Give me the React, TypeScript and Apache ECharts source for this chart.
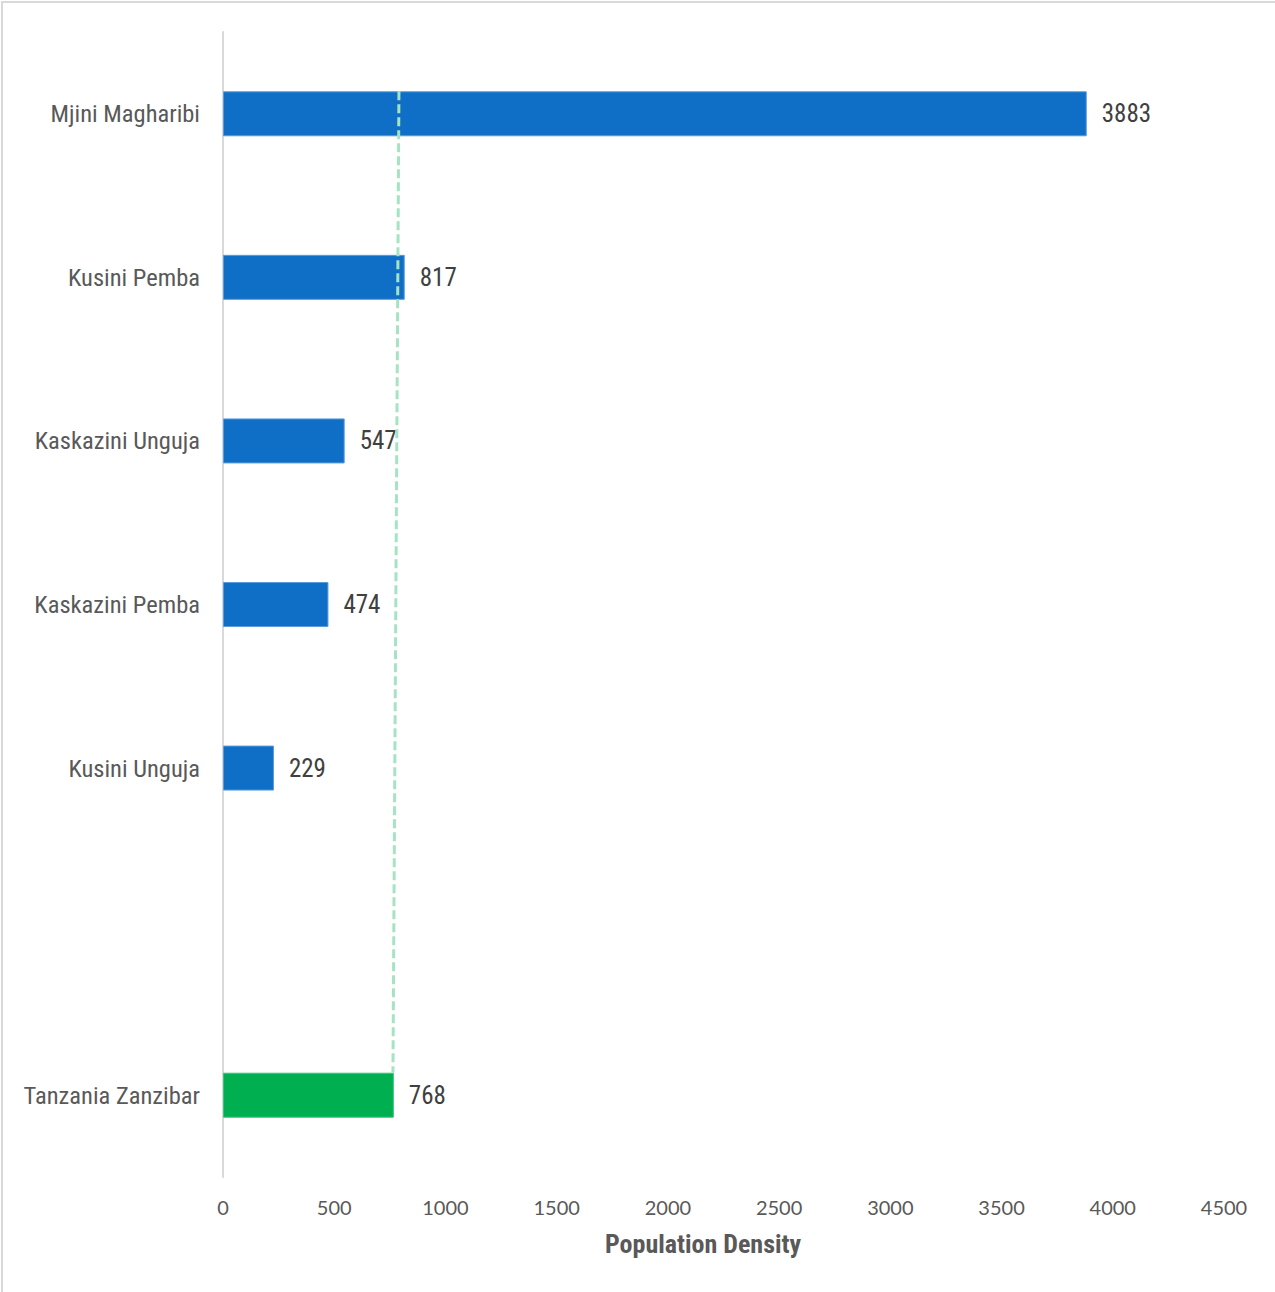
import React, { useEffect, useRef } from "react";
import * as echarts from "echarts";

const categories = [
  "Mjini Magharibi",
  "Kusini Pemba",
  "Kaskazini Unguja",
  "Kaskazini Pemba",
  "Kusini Unguja",
  "",
  "Tanzania Zanzibar",
];
const densities: (number | null)[] = [3883, 817, 547, 474, 229, null, 768];
const barColors = ["#0F6FC6", "#0F6FC6", "#0F6FC6", "#0F6FC6", "#0F6FC6", "#0F6FC6", "#00B050"];
// dashed reference line (value, slot position) endpoints
const refLine: [number, number][] = [
  [791, 0.3625],
  [764, 6.3625],
];
const xMax = 4500;
const xStep = 500;
const axisTitle = "Population Density";

export default function App() {
  const ref = useRef<HTMLDivElement>(null);
  useEffect(() => {
    document.body.style.margin = "0";
    const chart = echarts.init(ref.current!, undefined, { renderer: "svg" });
    const narrow = "'Roboto Condensed', 'Liberation Sans Narrow', sans-serif";
    chart.setOption({
      animation: false,
      backgroundColor: "#ffffff",
      grid: { left: 223, right: 51, top: 32, bottom: 115, containLabel: false, outerBoundsMode: "none" },
      xAxis: {
        type: "value",
        min: 0,
        max: xMax,
        interval: xStep,
        axisLine: { show: false },
        axisTick: { show: false },
        splitLine: { show: false },
        axisLabel: {
          color: "#595959",
          fontFamily: "Lato, sans-serif",
          fontSize: 20,
          margin: 20,
          formatter: (v: number) => String(v),
        },
      },
      yAxis: [
        {
          type: "category",
          data: categories,
          inverse: true,
          axisLine: { show: true, lineStyle: { color: "#D9D9D9", width: 2 } },
          axisTick: { show: false },
          splitLine: { show: false },
          axisLabel: { color: "#595959", fontFamily: narrow, fontSize: 24.5, margin: 23, padding: [4, 0, 0, 0] },
        },
        {
          type: "value",
          min: 0,
          max: categories.length,
          inverse: true,
          show: false,
        },
      ],
      series: [
        {
          type: "bar",
          yAxisIndex: 0,
          barWidth: 45,
          data: densities.map((v, i) => ({
            value: v,
            itemStyle: { color: barColors[i], borderColor: i === 6 ? "#3CC27A" : "#5A9BDB", borderWidth: 1 },
          })),
          label: {
            show: true,
            position: "right",
            distance: 15,
            color: "#404040",
            fontFamily: narrow,
            fontSize: 25,
            padding: [4, 0, 0, 0],
          },
          z: 2,
        },
        {
          type: "line",
          yAxisIndex: 1,
          data: refLine,
          symbol: "none",
          lineStyle: { color: "#A6E3C3", width: 3, type: [9, 4] },
          z: 5,
        },
      ],
      graphic: [
        {
          type: "text",
          x: 703,
          y: 1244,
          style: {
            text: axisTitle,
            fill: "#595959",
            font: `bold 26px ${narrow}`,
            align: "center",
            verticalAlign: "middle",
          },
        },
        {
          type: "rect",
          shape: { x: 2, y: 2, width: 1290, height: 1310 },
          style: { fill: "none", stroke: "#D9D9D9", lineWidth: 2 },
          silent: true,
        },
      ],
    });
    return () => chart.dispose();
  }, []);
  return (
    <div
      ref={ref}
      style={{ position: "absolute", left: 0, top: 0, width: 1275, height: 1292 }}
    />
  );
}
